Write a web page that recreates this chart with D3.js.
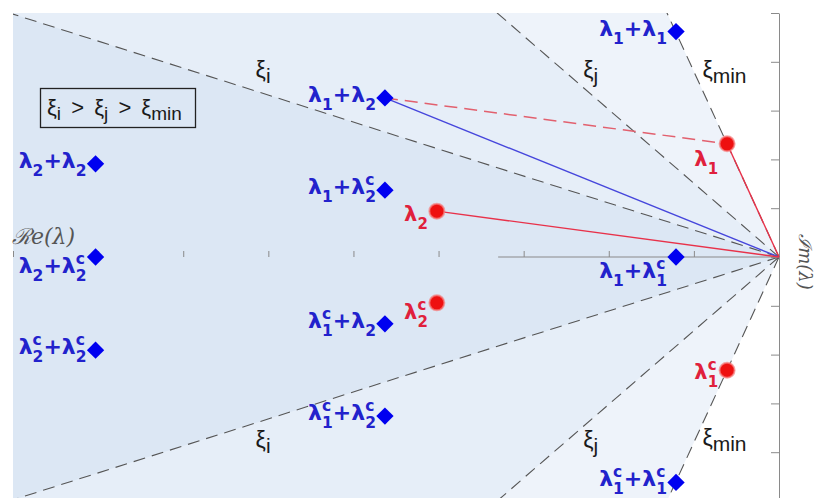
<!DOCTYPE html>
<html>
<head>
<meta charset="utf-8">
<script src="https://cdn.jsdelivr.net/npm/d3@7/dist/d3.min.js"></script>
<style>
  body { margin: 0; background: #fff; }
  svg { display: block; }
</style>
</head>
<body>
<svg id="chart" width="816" height="498"></svg>
<script>
// Eigenvalues of the linearised system (complex-conjugate pairs)
const eigLabels = ["λ_1", "λ_2", "λ_2^c", "λ_1^c"];
const eigRe = [-0.61, -4.02, -4.02, -0.61];
const eigIm = [2.32, 0.94, -0.94, -2.32];

// Second-order combinations of the eigenvalues
const comboLabels = [
  "λ_1+λ_1", "λ_1+λ_2", "λ_2+λ_2", "λ_1+λ_2^c", "λ_2+λ_2^c",
  "λ_1+λ_1^c", "λ_1^c+λ_2", "λ_2^c+λ_2^c", "λ_1^c+λ_2^c", "λ_1^c+λ_1^c"
];
const comboRe = [-1.21, -4.63, -8.03, -4.63, -8.03, -1.21, -4.63, -8.03, -4.63, -1.21];
const comboIm = [4.62, 3.26, 1.91, 1.37, 0, 0, -1.37, -1.91, -3.26, -4.62];

// Constant damping-ratio rays, given by |Im/Re|
const xiNames = ["ξ_i", "ξ_j", "ξ_{min}"];
const xiSlope = [0.553, 1.51, 3.8];
const xiLabelRe = [-6.15, -2.3, -0.9];
const xiLabelImUpper = [3.67, 3.67, 3.67];
const xiLabelImLower = [-3.91, -3.91, -3.87];

// Axis ticks (no tick labels)
const reTicks = [-9, -8, -7, -6, -5, -4, -3, -2, -1, 0];
const imTicks = [-5, -4, -3, -2, -1, 0, 1, 2, 3, 4, 5];
const reAxisFrom = -3.3;

const svg = d3.select("#chart");
const x = d3.scaleLinear().domain([-9, 0]).range([13, 779]);
const y = d3.scaleLinear().domain([-5, 5]).range([501, 13]);

svg.append("defs").append("clipPath").attr("id", "plot-clip")
  .append("rect")
  .attr("x", x(-9)).attr("y", y(5))
  .attr("width", x(0) - x(-9)).attr("height", y(-5) - y(5));

const plot = svg.append("g").attr("clip-path", "url(#plot-clip)");

// Shaded cones, widest first so the narrower ones sit on top
const coneFill = ["#dce7f4", "#e6eef8", "#eef3fa"];
const far = 30;
const coneOrder = [2, 1, 0];
plot.selectAll("path.cone")
  .data(coneOrder)
  .join("path")
  .attr("class", "cone")
  .attr("d", i => d3.line()([
    [x(0), y(0)],
    [x(-far), y(far * xiSlope[i])],
    [x(-far), y(-far * xiSlope[i])]
  ]) + "Z")
  .attr("fill", i => coneFill[i]);

// Axes
const axisColor = "#8a8a8a";
const yAxis = svg.append("g")
  .attr("transform", `translate(${x(0)},0)`)
  .call(d3.axisLeft(y).tickValues(imTicks).tickSize(8).tickSizeOuter(0).tickFormat(""));
yAxis.select(".domain").attr("stroke", axisColor);
yAxis.selectAll(".tick line").attr("stroke", axisColor);

const xAxis = svg.append("g")
  .attr("transform", `translate(0,${y(0)})`)
  .call(d3.axisTop(x).tickValues(reTicks).tickSize(6).tickSizeOuter(0).tickFormat(""));
xAxis.select(".domain").remove();
xAxis.selectAll(".tick line").attr("stroke", axisColor);
svg.append("line")
  .attr("x1", x(reAxisFrom)).attr("x2", x(0))
  .attr("y1", y(0)).attr("y2", y(0))
  .attr("stroke", axisColor).attr("stroke-width", 1.2);

// Damping-ratio rays
xiSlope.forEach(s => {
  [1, -1].forEach(sign => {
    plot.append("line")
      .attr("x1", x(0)).attr("y1", y(0))
      .attr("x2", x(-far)).attr("y2", y(sign * far * s))
      .attr("stroke", "#555").attr("stroke-width", 1.1)
      .attr("stroke-dasharray", "12,7");
  });
});

// Connections between the combination λ1+λ2, λ1, λ2 and the origin
const iSum = comboLabels.indexOf("λ_1+λ_2");
const iL1 = eigLabels.indexOf("λ_1");
const iL2 = eigLabels.indexOf("λ_2");
const seg = (a, b) => [[x(a[0]), y(a[1])], [x(b[0]), y(b[1])]];
const pSum = [comboRe[iSum], comboIm[iSum]];
const pL1 = [eigRe[iL1], eigIm[iL1]];
const pL2 = [eigRe[iL2], eigIm[iL2]];
const origin = [0, 0];
const drawSeg = (pts, color, dash, w) => svg.append("path")
  .attr("d", d3.line()(pts)).attr("fill", "none")
  .attr("stroke", color).attr("stroke-width", w)
  .attr("stroke-dasharray", dash);
drawSeg(seg(pSum, pL1), "#e2606e", "13,7", 1.5);
drawSeg(seg(pSum, origin), "#4646dc", null, 1.4);
drawSeg(seg(pL1, origin), "#e8324a", null, 1.4);
drawSeg(seg(pL2, origin), "#e8324a", null, 1.4);

// Rich text with TeX-like _sub and ^sup (stacked when adjacent)
function richText(g, str, o) {
  const t = g.append("text")
    .attr("font-family", o.family).attr("font-weight", o.weight || "normal")
    .attr("font-style", o.style || "normal")
    .attr("font-size", o.size).attr("fill", o.fill);
  if (o.wordSpacing) t.attr("word-spacing", o.wordSpacing);
  const re = /_\{([^}]*)\}|_(.)|\^\{([^}]*)\}|\^(.)|([^_^]+)/g;
  let m, cur = 0, prevKind = null, prevLen = 0, pending = 0;
  while ((m = re.exec(str)) !== null) {
    let kind, txt;
    if (m[1] !== undefined || m[2] !== undefined) { kind = "sub"; txt = m[1] ?? m[2]; }
    else if (m[3] !== undefined || m[4] !== undefined) { kind = "sup"; txt = m[3] ?? m[4]; }
    else { kind = "main"; txt = m[5]; }
    const off = kind === "sub" ? o.subDy : kind === "sup" ? o.supDy : 0;
    const ts = t.append("tspan").text(txt)
      .attr("font-size", kind === "main" ? o.size : o.subSize)
      .attr("dy", off - cur);
    cur = off;
    let dx = pending;
    pending = 0;
    const stacked = (kind === "sub" && prevKind === "sup") || (kind === "sup" && prevKind === "sub");
    if (stacked) dx -= prevLen;
    if (dx) ts.attr("dx", dx);
    const len = ts.node().getComputedTextLength();
    if (stacked && len < prevLen) pending = prevLen - len;
    prevKind = stacked ? null : kind;
    prevLen = len;
  }
  return t;
}

function place(t, ax, ay, anchor) {
  const b = t.node().getBBox();
  const dx = anchor === "end" ? ax - (b.x + b.width) : ax - b.x;
  t.attr("transform", `translate(${dx},${ay})`);
}

// Combination markers and labels
const blueStyle = { family: "DejaVu Sans", weight: "bold", size: 22, subSize: 15.5,
  subDy: 8, supDy: -9, fill: "#2222cc" };
comboLabels.forEach((lab, i) => {
  const cx = x(comboRe[i]), cy = y(comboIm[i]);
  const t = richText(svg.append("g"), lab, blueStyle);
  const base = comboIm[i] === 0 ? (comboRe[i] < -5 ? 16 : 21) : 4;
  place(t, cx - 9, cy + base, "end");
});
svg.selectAll("path.combo")
  .data(comboLabels.map((d, i) => i))
  .join("path")
  .attr("class", "combo")
  .attr("d", d3.symbol(d3.symbolSquare, 150)())
  .attr("transform", i => `translate(${x(comboRe[i])},${y(comboIm[i])}) rotate(45)`)
  .attr("fill", "#0000f0");

// Eigenvalue markers and labels
const redStyle = { family: "DejaVu Sans", weight: "bold", size: 21, subSize: 15,
  subDy: 8, supDy: -9, fill: "#e0203c" };
const eigLabelDrop = { "λ_1": 22, "λ_2": 10, "λ_2^c": 16, "λ_1^c": 9 };
eigLabels.forEach((lab, i) => {
  const t = richText(svg.append("g"), lab, redStyle);
  place(t, x(eigRe[i]) - 9, y(eigIm[i]) + eigLabelDrop[lab], "end");
});
svg.selectAll("circle.eig")
  .data(eigLabels.map((d, i) => i))
  .join("circle")
  .attr("class", "eig")
  .attr("cx", i => x(eigRe[i])).attr("cy", i => y(eigIm[i]))
  .attr("r", 7.5)
  .attr("fill", "#ee1010")
  .attr("stroke", "rgba(245,130,130,0.7)").attr("stroke-width", 2);

// Ray labels
const xiStyle = { family: "Liberation Sans", size: 23, subSize: 21, subDy: 5, supDy: -8, fill: "#1a1a1a" };
xiNames.forEach((n, i) => {
  [xiLabelImUpper[i], xiLabelImLower[i]].forEach(im => {
    const t = richText(svg.append("g"), n, xiStyle);
    place(t, x(xiLabelRe[i]), y(im), "start");
  });
});

// Ordering legend
svg.append("rect")
  .attr("x", 40.5).attr("y", 88.5).attr("width", 155).attr("height", 39)
  .attr("fill", "none").attr("stroke", "#222").attr("stroke-width", 1.3);
const legStyle = { family: "Liberation Sans", size: 22, subSize: 19, subDy: 5, supDy: -8,
  fill: "#1a1a1a", wordSpacing: 4 };
const leg = richText(svg.append("g"), "ξ_i > ξ_j > ξ_{min}", legStyle);
place(leg, 47, 115, "start");

// Axis titles
svg.append("text")
  .attr("x", 12).attr("y", 244)
  .attr("font-family", "DejaVu Serif").attr("font-style", "italic")
  .attr("font-size", 22).attr("fill", "#555")
  .text("ℛe(λ)");
svg.append("text")
  .attr("transform", `translate(799,262) rotate(90)`)
  .attr("text-anchor", "middle")
  .attr("font-family", "DejaVu Serif").attr("font-style", "italic")
  .attr("font-size", 18).attr("fill", "#555")
  .text("ℐm(λ)");
</script>
</body>
</html>
